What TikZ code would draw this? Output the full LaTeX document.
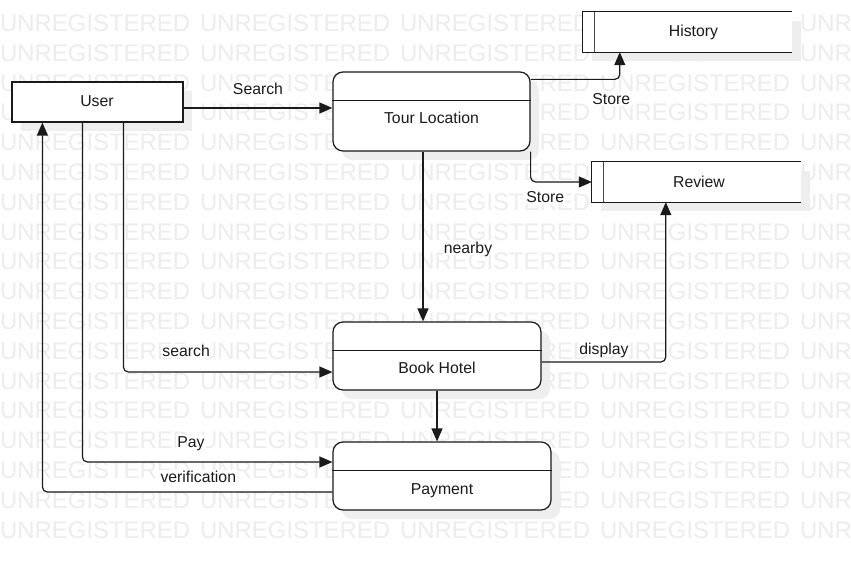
\documentclass[tikz,border=0pt]{standalone}
\usepackage{fontspec}
\setmainfont{Liberation Sans}
\usetikzlibrary{arrows.meta,calc,shadows}
\definecolor{wmgray}{HTML}{EDEDED}
\definecolor{shgray}{HTML}{EEEEEE}
\definecolor{ink}{HTML}{1A1A1A}
\tikzset{
  sh/.style={general shadow={fill=shgray, shadow xshift=9pt, shadow yshift=-9pt}},
  ent/.style={sh, draw=ink, fill=white, line width=1.2pt, inner sep=0pt},
  proc/.style={sh, draw=ink, fill=white, line width=1.2pt, rounded corners=10pt, inner sep=0pt},
  store/.style={sh, fill=white, inner sep=0pt},
  boxline/.style={draw=ink, line width=1.2pt},
  innerline/.style={draw=ink!80, line width=1.2pt},
  txt/.style={font=\fontsize{15.8}{18}\selectfont, text=ink, inner sep=1pt, text height=11.3pt, text depth=0pt},
  elabel/.style={txt, fill=white, inner sep=1.5pt},
  flow/.style={draw=ink, line width=1.2pt, rounded corners=5pt, -{Triangle[length=13pt,width=11pt]}},
  wm/.style={font=\fontsize{23.9}{24}\selectfont, text=wmgray, inner sep=0pt, anchor=base west},
}
\begin{document}
\begin{tikzpicture}[x=1pt,y=-1pt]
\clip (0,0) rectangle (851,561);
\fill[white] (0,0) rectangle (851,561);
\foreach \r in {0,...,17} {
  \foreach \c in {0,...,4} {
    \node[wm] (wm-\r-\c) at ({200*\c}, {31.5+29.8*\r}) {UNREGISTERED};
  }
}
% entities / processes
\node[ent, minimum width=171pt, minimum height=40pt] (user) at (97.5,102) {};
\node[txt] (userT) at (97,101) {User};

\node[proc, minimum width=197pt, minimum height=79pt] (tour) at (431.5,111.5) {};
\draw[boxline] ($(tour.north west)+(0,29)$) -- ($(tour.north east)+(0,29)$);
\node[txt] (tourT) at (431.5,118) {Tour Location};

\node[proc, minimum width=208pt, minimum height=68pt] (hotel) at (437,356) {};
\draw[boxline] ($(hotel.north west)+(0,29)$) -- ($(hotel.north east)+(0,29)$);
\node[txt] (hotelT) at (437,368) {Book Hotel};

\node[proc, minimum width=218pt, minimum height=68pt] (pay) at (442,476) {};
\draw[boxline] ($(pay.north west)+(0,29)$) -- ($(pay.north east)+(0,29)$);
\node[txt] (payT) at (442,488.5) {Payment};

% data stores
\node[store, minimum width=209pt, minimum height=40pt] (history) at (687.5,32) {};
\draw[boxline] (history.north east) -- (history.north west) -- (history.south west) -- (history.south east);
\draw[innerline] ($(history.north west)+(12,0)$) -- ($(history.south west)+(12,0)$);
\node[txt] (historyT) at (693.5,31) {History};

\node[store, minimum width=209pt, minimum height=40pt] (review) at (696.5,182) {};
\draw[boxline] (review.north east) -- (review.north west) -- (review.south west) -- (review.south east);
\draw[innerline] ($(review.north west)+(12,0)$) -- ($(review.south west)+(12,0)$);
\node[txt] (reviewT) at (699,181.5) {Review};

% connector points
\coordinate (usrA) at ($(user.east)+(0,6)$);
\coordinate (tourH) at ($(tour.north east)+(0,8)$);
\coordinate (histIn) at ($(history.south west)+(37,0)$);
\coordinate (nb) at ($(tour.south)+(-8.5,0)$);
\coordinate (hotR) at ($(hotel.east)+(0,6)$);
\coordinate (revIn) at ($(review.south west)+(74,0)$);
\coordinate (uS) at ($(user.south west)+(112,0)$);
\coordinate (uP) at ($(user.south west)+(71,0)$);
\coordinate (uV) at ($(user.south west)+(31,0)$);
\coordinate (hotIn) at ($(hotel.west)+(0,16)$);
\coordinate (payIn) at ($(pay.west)+(0,-14)$);
\coordinate (payOut) at ($(pay.west)+(0,16)$);

% connectors
\draw[flow] (usrA) -- (usrA -| tour.west);
\draw[flow] (tourH) -| (histIn);
\draw[flow] (tour.south east) |- (review.west);
\draw[flow] (nb) -- (nb |- hotel.north);
\draw[flow] (hotR) -| (revIn);
\draw[flow] (hotel.south) -- (hotel.south |- pay.north);
\draw[flow] (uS) |- (hotIn);
\draw[flow] (uP) |- (payIn);
\draw[flow] (payOut) -| (uV);

% labels
\node[elabel] (lSearch) at (258,88.5) {Search};
\node[elabel] (lStore1) at (611.3,99) {Store};
\node[elabel] (lStore2) at (545.3,197) {Store};
\node[elabel] (lNearby) at (468,247.5) {nearby};
\node[elabel] (lDisplay) at (604,348.5) {display};
\node[elabel] (lsearch) at (186.2,351) {search};
\node[elabel] (lPay) at (191,442.2) {Pay};
\node[elabel] (lVer) at (198.3,477.2) {verification};
\end{tikzpicture}
\end{document}
